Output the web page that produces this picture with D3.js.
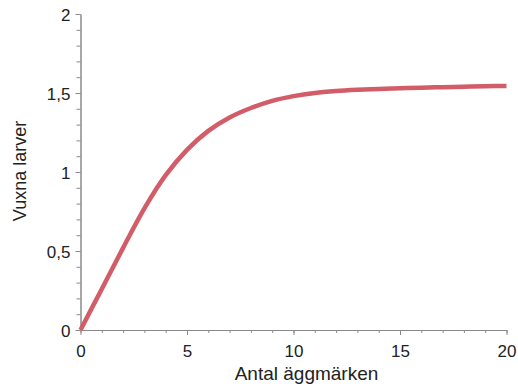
<!DOCTYPE html>
<html>
<head>
<meta charset="utf-8">
<script src="https://cdn.jsdelivr.net/npm/d3@7"></script>
<style>
  body { margin: 0; background: #fff; }
  .axis text { font-family: "Liberation Sans", Arial, sans-serif; font-size: 17px; fill: #222; }
  .axis path, .axis line { stroke: #8a8a8a; }
  .title { font-family: "Liberation Sans", Arial, sans-serif; fill: #222; }
</style>
</head>
<body>
<script>
// antal äggmärken (x) och vuxna larver (y)
var eggMarks = [0, 1, 2, 3, 4, 5, 6, 7, 8, 9, 10, 11, 12, 13, 14, 15, 16, 17, 18, 19, 20];
var larvae = [0, 0.26, 0.52, 0.77, 0.98, 1.14, 1.26, 1.345, 1.405, 1.45, 1.48, 1.50, 1.512, 1.52, 1.526, 1.53, 1.534, 1.537, 1.54, 1.543, 1.545];

var xTicks = [0, 5, 10, 15, 20];
var yTicks = [0, 0.5, 1, 1.5, 2];

var margin = {top: 14, right: 11.5, bottom: 54, left: 80.5},
    width = 518 - margin.left - margin.right,
    height = 384 - margin.top - margin.bottom;

var x = d3.scaleLinear().domain([0, 20]).range([0, width]);
var y = d3.scaleLinear().domain([0, 2]).range([height, 0]);

var svg = d3.select("body").append("svg")
    .attr("width", 518)
    .attr("height", 384)
  .append("g")
    .attr("transform", "translate(" + margin.left + "," + margin.top + ")");

var fmt = function(d) { return String(d).replace(".", ","); };

// minor ticks
svg.append("g")
    .attr("class", "axis")
    .attr("transform", "translate(0," + height + ")")
    .call(d3.axisBottom(x).tickValues(d3.range(0, 21, 1)).tickSize(3).tickSizeOuter(0).tickFormat(""));
svg.append("g")
    .attr("class", "axis")
    .call(d3.axisLeft(y).tickValues(d3.range(0, 21, 1).map(function(d) { return d / 10; })).tickSize(4).tickSizeOuter(0).tickFormat(""));

// major ticks
svg.append("g")
    .attr("class", "axis x")
    .attr("transform", "translate(0," + height + ")")
    .call(d3.axisBottom(x).tickValues(xTicks).tickSize(5).tickSizeOuter(0).tickPadding(10).tickFormat(fmt));
svg.append("g")
    .attr("class", "axis y")
    .call(d3.axisLeft(y).tickValues(yTicks).tickSize(5).tickSizeOuter(0).tickPadding(5).tickFormat(fmt));

svg.selectAll(".axis.y text").attr("dy", "0.36em");

var line = d3.line()
    .x(function(d, i) { return x(eggMarks[i]); })
    .y(function(d) { return y(d); })
    .curve(d3.curveCatmullRom);

svg.append("path")
    .datum(larvae)
    .attr("fill", "none")
    .attr("stroke", "#d25c67")
    .attr("stroke-width", 4.5)
    .attr("d", line);

svg.append("text")
    .attr("class", "title")
    .attr("x", 226)
    .attr("y", height + 50)
    .attr("text-anchor", "middle")
    .attr("font-size", "19px")
    .text("Antal äggmärken");

svg.append("text")
    .attr("class", "title")
    .attr("transform", "rotate(-90)")
    .attr("x", -157)
    .attr("y", -55)
    .attr("text-anchor", "middle")
    .attr("font-size", "18px")
    .text("Vuxna larver");
</script>
</body>
</html>
